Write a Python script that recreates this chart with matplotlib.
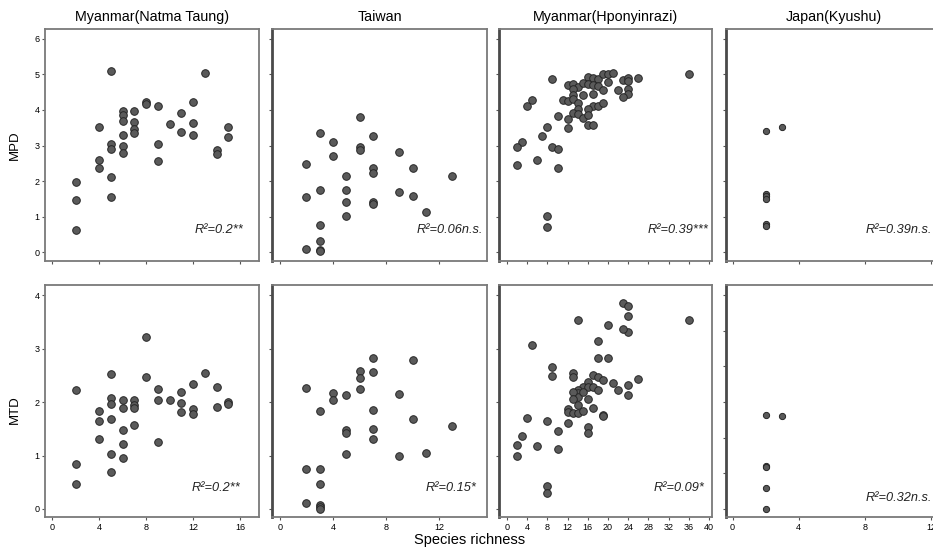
import numpy as np
import matplotlib
matplotlib.use('Agg')
import matplotlib.pyplot as plt

plt.rcParams['font.family'] = ['Liberation Sans', 'DejaVu Sans']

# --- dados: riqueza de espécies x MPD / MTD por região ---
regioes = ['Myanmar(Natma Taung)', 'Taiwan', 'Myanmar(Hponyinrazi)', 'Japan(Kyushu)']

nt_mpd_x = [2,2,2,4,4,4,5,5,5,5,5,6,6,6,6,6,6,7,7,7,7,8,8,9,9,9,10,11,11,12,12,12,13,14,14,15,15]
nt_mpd_y = [1.97,1.46,0.63,3.53,2.60,2.37,5.10,3.04,2.89,2.12,1.54,3.96,3.86,3.70,3.29,2.99,2.78,
            3.98,3.65,3.46,3.34,4.23,4.18,4.11,3.05,2.56,3.61,3.92,3.39,4.23,3.63,3.29,5.05,2.87,2.76,3.52,3.25]
nt_mtd_x = [2,2,2,4,4,4,5,5,5,5,5,5,6,6,6,6,6,7,7,7,7,8,8,9,9,9,10,11,11,11,12,12,12,13,14,14,15,15]
nt_mtd_y = [2.23,0.85,0.47,1.83,1.64,1.31,2.53,2.07,1.97,1.68,1.02,0.69,2.03,1.88,1.47,1.21,0.95,
            2.04,1.95,1.88,1.57,3.22,2.47,2.24,2.04,1.25,2.04,2.18,1.98,1.82,2.34,1.87,1.78,2.54,2.29,1.90,2.01,1.96]

tw_mpd_x = [6,3,4,7,6,6,4,2,9,7,7,10,5,13,2,3,5,9,10,5,7,7,11,5,3,3,2,3,3]
tw_mpd_y = [3.80,3.34,3.10,3.28,2.97,2.87,2.70,2.47,2.81,2.38,2.23,2.37,2.14,2.14,1.56,1.74,1.74,1.68,
            1.58,1.41,1.41,1.36,1.14,1.02,0.75,0.30,0.09,0.07,0.03]
tw_mtd_x = [7,10,6,6,7,2,4,4,5,6,9,3,7,10,13,5,5,7,7,5,9,11,2,3,3,2,3,3,3]
tw_mtd_y = [2.83,2.78,2.58,2.45,2.57,2.26,2.17,2.04,2.14,2.24,2.16,1.83,1.86,1.69,1.55,1.47,1.43,1.50,
            1.30,1.03,1.00,1.04,0.74,0.74,0.47,0.11,0.07,0.03,0.00]

hp_mpd_x = [36,9,16,17,18,19,20,21,20,23,24,24,26,12,13,14,15,16,17,18,13,19,22,24,24,23,15,17,13,5,
            4,11,12,13,14,14,17,18,19,16,13,14,15,16,10,12,8,12,16,17,7,3,2,9,10,2,6,10,8,8]
hp_mpd_y = [5.01,4.87,4.92,4.90,4.86,5.00,5.01,5.03,4.80,4.85,4.91,4.82,4.90,4.70,4.73,4.65,4.77,4.73,
            4.71,4.68,4.58,4.55,4.57,4.60,4.44,4.37,4.42,4.45,4.42,4.28,4.11,4.29,4.26,4.32,4.20,4.04,
            4.11,4.10,4.19,4.02,3.91,3.88,3.78,3.87,3.84,3.76,3.51,3.49,3.58,3.57,3.27,3.11,2.96,2.96,
            2.91,2.46,2.59,2.36,1.02,0.72]
hp_mtd_x = [23,24,24,24,23,14,36,20,5,18,18,20,9,9,13,13,17,18,19,26,21,16,15,16,17,18,14,14,14,13,
            13,15,22,24,24,16,14,17,12,12,13,14,15,19,19,4,8,12,16,16,10,3,2,2,6,10,8,8]
hp_mtd_y = [3.86,3.79,3.61,3.31,3.37,3.54,3.54,3.45,3.07,3.15,2.83,2.82,2.66,2.48,2.54,2.47,2.50,2.46,
            2.42,2.44,2.35,2.37,2.29,2.29,2.28,2.23,2.22,2.17,2.10,2.19,2.06,2.19,2.22,2.31,2.13,2.05,
            1.94,1.88,1.87,1.81,1.79,1.79,1.83,1.76,1.74,1.71,1.64,1.61,1.53,1.43,1.46,1.37,1.20,1.00,
            1.17,1.12,0.43,0.29]

ky_mpd_x = [2,3,2,2,2,2,2]
ky_mpd_y = [3.40,3.51,1.63,1.57,1.50,0.80,0.74]
ky_mtd_x = [2,3,2,2,2,2]
ky_mtd_y = [1.76,1.74,0.80,0.79,0.40,0.00]

r2_mpd = ['R²=0.2**', 'R²=0.06n.s.', 'R²=0.39***', 'R²=0.39n.s.']
r2_mtd = ['R²=0.2**', 'R²=0.15*', 'R²=0.09*', 'R²=0.32n.s.']

dados_mpd = [(nt_mpd_x, nt_mpd_y), (tw_mpd_x, tw_mpd_y), (hp_mpd_x, hp_mpd_y), (ky_mpd_x, ky_mpd_y)]
dados_mtd = [(nt_mtd_x, nt_mtd_y), (tw_mtd_x, tw_mtd_y), (hp_mtd_x, hp_mtd_y), (ky_mtd_x, ky_mtd_y)]

xticks = [[0,4,8,12,16], [0,4,8,12], list(range(0, 41, 4)), [0,4,8,12]]
xlims = [(-0.6, 17.6), (-0.6, 15.6), (-1.6, 40.6), (-0.4, 12.6)]

# posições dos painéis (fração da figura)
lefts = [0.0482, 0.2915, 0.5348, 0.7781]
widths = [0.2294, 0.2304, 0.2283, 0.2304]
bottoms = [0.5246, 0.0583]
altura = 0.4226

# posição do texto de R² (fração do eixo)
r2_pos_mpd = [(0.70, 0.134), (0.674, 0.134), (0.70, 0.134), (0.65, 0.134)]
r2_pos_mtd = [(0.687, 0.125), (0.716, 0.125), (0.728, 0.125), (0.65, 0.08)]

cor_borda = '#7a7a7a'
cor_ponto = '#5a5a5a'

fig = plt.figure(figsize=(9.33, 5.49), dpi=100)


def estilo(ax, col, linha):
    for lado, sp in ax.spines.items():
        sp.set_color(cor_borda)
        sp.set_linewidth(1.3)
    if col > 0:
        ax.spines['left'].set_color('#4a4a4a')
        ax.spines['left'].set_linewidth(2.0)
    ax.tick_params(direction='out', length=2.5, width=0.8, color='#555555',
                   labelsize=6.5, pad=1.5)
    ax.set_xlim(xlims[col])
    ax.set_xticks(xticks[col])
    if linha == 0:
        ax.set_ylim(-0.25, 6.28)
        ax.set_yticks(range(0, 7))
        ax.set_xticklabels([])
    else:
        ax.set_ylim(-0.15, 4.19)
        if col == 3:
            ax.set_yticks(np.linspace(0, 4, 7))
        else:
            ax.set_yticks(range(0, 5))
    if col > 0:
        ax.set_yticklabels([])


for linha, (dados, r2s, r2_pos) in enumerate([(dados_mpd, r2_mpd, r2_pos_mpd),
                                               (dados_mtd, r2_mtd, r2_pos_mtd)]):
    for col in range(4):
        ax = fig.add_axes([lefts[col], bottoms[linha], widths[col], altura])
        x, y = dados[col]
        tam = 30 if col < 3 else 20
        ax.scatter(x, y, s=tam, c=cor_ponto, edgecolors='#262626', linewidths=0.7, zorder=3)
        estilo(ax, col, linha)
        ax.text(r2_pos[col][0], r2_pos[col][1], r2s[col], transform=ax.transAxes,
                fontsize=9.2, style='italic', color='#222222', ha='left', va='center',
                clip_on=True)
        if linha == 0:
            ax.set_title(regioes[col], fontsize=10.3, pad=6)

fig.text(15 / 933, 1 - 145 / 549, 'MPD', rotation=90, fontsize=9.5, ha='center', va='center')
fig.text(15 / 933, 1 - 410 / 549, 'MTD', rotation=90, fontsize=9.5, ha='center', va='center')
fig.text(470 / 933, 1 - 540 / 549, 'Species richness', fontsize=10.5, ha='center', va='center')

fig.savefig('out.png', dpi=100)
